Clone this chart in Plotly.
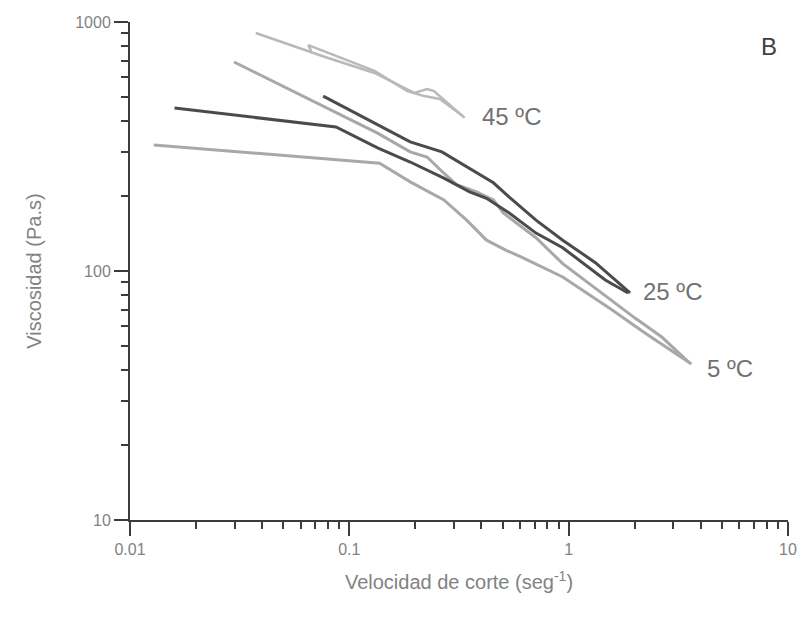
import plotly.graph_objects as go

# Shear rate (1/s) and viscosity (Pa.s) for each measured sweep
rate_45_a = [0.0374, 0.0800, 0.1303, 0.1976, 0.2261, 0.2432, 0.3357]
visc_45_a = [903, 717, 624, 519, 538, 528, 412]
rate_45_b = [0.0670, 0.0650, 0.1303, 0.1836, 0.2193, 0.2588, 0.3288]
visc_45_b = [765, 808, 636, 528, 504, 491, 419]

rate_25_a = [0.01596, 0.0869, 0.1345, 0.1895, 0.2698, 0.3536, 0.4220, 0.5360, 0.7096, 0.9395, 1.469, 1.866]
visc_25_a = [451, 379, 312, 274, 236, 208, 196, 171, 142, 124, 92.0, 81.6]
rate_25_b = [0.0760, 0.1345, 0.1895, 0.2643, 0.4538, 0.5360, 0.7096, 0.9395, 1.324, 1.905]
visc_25_b = [504, 386, 330, 301, 226, 198, 160, 133, 108, 81.6]

rate_5_a = [0.01283, 0.1373, 0.1895, 0.2698, 0.3428, 0.4220, 0.5195, 0.6198, 0.9395, 1.579, 2.227, 3.138, 3.629]
visc_5_a = [321, 271, 228, 193, 160, 133, 121, 113, 94.6, 69.7, 56.4, 46.0, 42.3]
rate_5_b = [0.0298, 0.0825, 0.1345, 0.1895, 0.2261, 0.2698, 0.3089, 0.3803, 0.4538, 0.5035, 0.7096, 0.9395, 1.324, 2.007, 2.657, 3.554]
visc_5_b = [691, 443, 358, 301, 287, 247, 222, 208, 193, 171, 136, 107, 85.4, 64.7, 54.3, 42.8]

x_ticks = [0.01, 0.1, 1, 10]
x_tick_text = ["0.01", "0.1", "1", "10"]
x_minor = [m * d for d in (0.01, 0.1, 1) for m in range(2, 10)]
y_ticks = [10, 100, 1000]
y_tick_text = ["10", "100", "1000"]
y_minor = [m * d for d in (10, 100) for m in range(2, 10)]

LIGHT_45 = "#b9b9b9"
LIGHT_5 = "#a8a8a8"
DARK_25 = "#4b4b4b"
TEXT = "#828282"
AXIS = "#3c3c3c"
FAMILY = "Liberation Sans, Arial, sans-serif"

fig = go.Figure()
series = [
    (rate_45_a, visc_45_a, LIGHT_45, 2.5),
    (rate_45_b, visc_45_b, LIGHT_45, 2.5),
    (rate_5_a, visc_5_a, LIGHT_5, 3),
    (rate_5_b, visc_5_b, LIGHT_5, 3),
    (rate_25_a, visc_25_a, DARK_25, 3),
    (rate_25_b, visc_25_b, DARK_25, 3),
]
for xs, ys, color, width in series:
    fig.add_trace(go.Scatter(x=xs, y=ys, mode="lines",
                             line=dict(color=color, width=width),
                             showlegend=False, hoverinfo="skip"))

font = dict(family=FAMILY, color=TEXT)

fig.update_xaxes(
    type="log", range=[-2, 1],
    tickvals=x_ticks, ticktext=x_tick_text,
    ticks="outside", ticklen=14, tickwidth=2, tickcolor=AXIS,
    minor=dict(tickvals=x_minor, ticks="outside", ticklen=7, tickwidth=2,
               tickcolor=AXIS, showgrid=False),
    showline=True, linecolor=AXIS, linewidth=2,
    showgrid=False, zeroline=False,
    tickfont=dict(size=16, **font),
    title=dict(text="Velocidad de corte (seg<sup>-1</sup>)", font=dict(size=20, **font), standoff=18),
)
fig.update_yaxes(
    type="log", range=[1, 3],
    tickvals=y_ticks, ticktext=y_tick_text,
    ticks="outside", ticklen=14, tickwidth=2, tickcolor=AXIS,
    minor=dict(tickvals=y_minor, ticks="outside", ticklen=7, tickwidth=2,
               tickcolor=AXIS, showgrid=False),
    showline=True, linecolor=AXIS, linewidth=2,
    showgrid=False, zeroline=False,
    tickfont=dict(size=16, **font),
    title=dict(text="Viscosidad (Pa.s)", font=dict(size=20, **font), standoff=28),
)

label_font = dict(size=24, family=FAMILY, color="#727272")
for text, lx, ly in [("45 ºC", -0.406, 2.622), ("25 ºC", 0.330, 1.916), ("5 ºC", 0.6205, 1.610)]:
    fig.add_annotation(x=lx, y=ly, xref="x", yref="y", text=text, showarrow=False,
                       xanchor="left", yanchor="middle", font=label_font)

fig.add_annotation(x=0.971, y=0.950, xref="paper", yref="paper", text="B", showarrow=False,
                   xanchor="center", yanchor="middle",
                   font=dict(size=24, family=FAMILY, color="#3f3f3f"))

fig.update_layout(
    width=809, height=625,
    margin=dict(l=130, r=15, t=22, b=105),
    paper_bgcolor="white", plot_bgcolor="white",
)

fig.write_html("out.html")
